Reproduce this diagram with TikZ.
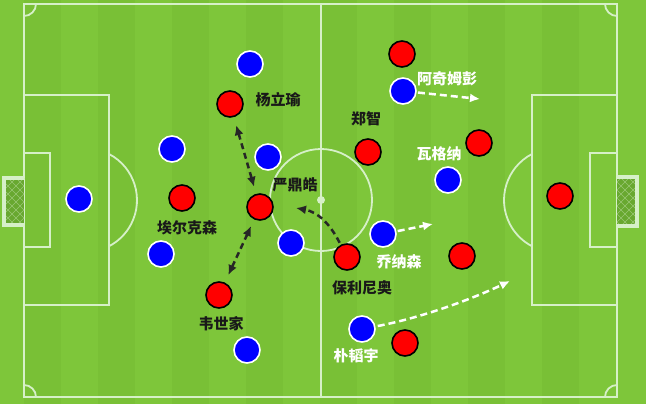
\documentclass[tikz,border=0pt]{standalone}
\usepackage{fontspec}
\usepackage{tkz-graph}
\usetikzlibrary{arrows.meta}
\usetikzlibrary{shapes}
\newfontfamily\cjk{Noto Sans CJK SC}
\definecolor{pitchGreen}{RGB}{126,198,58}
\definecolor{stripeGreen}{RGB}{121,192,54}
\definecolor{lineWhite}{RGB}{214,240,200}
\definecolor{netGreen}{RGB}{104,168,48}
\definecolor{redPlayer}{RGB}{255,0,0}
\definecolor{bluePlayer}{RGB}{0,0,255}

\begin{document}
\begin{tikzpicture}[x = 1pt, y = -1pt, font=\cjk\bfseries]
	\tikzstyle{VertexStyle} = []
	\tikzstyle{EdgeStyle} = []
	\tikzstyle{redStyle}=[shape = circle, minimum size = 26pt, inner sep = 0pt, draw = black, line width = 1.6pt, fill = redPlayer]
	\tikzstyle{blueStyle}=[shape = circle, minimum size = 26pt, inner sep = 0pt, draw = white, line width = 1.6pt, fill = bluePlayer]
	\tikzstyle{pitchLine}=[draw = lineWhite, line width = 1.8pt]
	\tikzstyle{blackName}=[text = black!90, inner sep = 0pt, font = \cjk\bfseries\fontsize{15}{17}\selectfont]
	\tikzstyle{whiteName}=[text = white, inner sep = 0pt, font = \cjk\bfseries\fontsize{15}{17}\selectfont]
	\tikzstyle{runBlack}=[draw = black!85, line width = 2.5pt, dash pattern = on 6pt off 4pt, >={Latex[length=10pt, width=9pt]}]
	\tikzstyle{runWhite}=[draw = white, line width = 2.5pt, dash pattern = on 7pt off 4pt, >={Latex[length=10pt, width=9pt]}]
	\useasboundingbox (0,0) rectangle (646,404);
	% pitch
	\fill[pitchGreen] (0,0) rectangle (646,404);
	\foreach \s in {0,...,7}
		\fill[stripeGreen] ({24+\s*74},0) rectangle ({24+\s*74+37},404);
	\draw[pitchLine] (24,4) rectangle (617,397);
	\draw[pitchLine] (321,4) -- (321,397);
	\draw[pitchLine] (321,200) circle (51);
	\fill[lineWhite] (321,200) circle (4);
	\draw[pitchLine] (24,95) rectangle (109,305);
	\draw[pitchLine] (24,153) rectangle (50,247);
	\draw[pitchLine] (109,154) arc[start angle = -62.5, end angle = 62.5, radius = 52];
	\draw[pitchLine] (532,95) rectangle (617,305);
	\draw[pitchLine] (590,153) rectangle (617,247);
	\draw[pitchLine] (532,154) arc[start angle = 242.5, end angle = 117.5, radius = 52];
	\draw[pitchLine] (36,4) arc[start angle = 0, end angle = 90, radius = 12];
	\draw[pitchLine] (605,4) arc[start angle = 180, end angle = 90, radius = 12];
	\draw[pitchLine] (24,385) arc[start angle = 270, end angle = 360, radius = 12];
	\draw[pitchLine] (605,397) arc[start angle = 180, end angle = 270, radius = 12];
	% goals
	\foreach \gx/\gw in {4/20, 617/20} {
		\fill[netGreen] (\gx,178) rectangle ({\gx+\gw},225);
		\begin{scope}
			\clip (\gx,178) rectangle ({\gx+\gw},225);
			\foreach \d in {-60,-52,...,60} {
				\draw[lineWhite!45!netGreen, line width = 0.6pt] ({\gx+\d},178) -- ++(60,60);
				\draw[lineWhite!45!netGreen, line width = 0.6pt] ({\gx+\d},178) -- ++(-60,60);
			}
		\end{scope}
	}
	\draw[lineWhite, line width = 3.5pt] (24,178) -- (4,178) -- (4,225) -- (24,225);
	\draw[lineWhite, line width = 3.5pt] (617,177) -- (637,177) -- (637,226) -- (617,226);
	% red team
	\Vertex[style = redStyle, x = 230, y = 104, NoLabel]{r1}
	\Vertex[style = redStyle, x = 182, y = 198, NoLabel]{r2}
	\Vertex[style = redStyle, x = 260, y = 207, NoLabel]{r3}
	\Vertex[style = redStyle, x = 219, y = 295, NoLabel]{r4}
	\Vertex[style = redStyle, x = 402, y = 54, NoLabel]{r5}
	\Vertex[style = redStyle, x = 368, y = 152, NoLabel]{r6}
	\Vertex[style = redStyle, x = 479, y = 143, NoLabel]{r7}
	\Vertex[style = redStyle, x = 347, y = 257, NoLabel]{r8}
	\Vertex[style = redStyle, x = 462, y = 256, NoLabel]{r9}
	\Vertex[style = redStyle, x = 405, y = 343, NoLabel]{r10}
	\Vertex[style = redStyle, x = 560, y = 196, NoLabel]{r11}
	% blue team
	\Vertex[style = blueStyle, x = 250, y = 64, NoLabel]{b1}
	\Vertex[style = blueStyle, x = 172, y = 149, NoLabel]{b2}
	\Vertex[style = blueStyle, x = 268, y = 157, NoLabel]{b3}
	\Vertex[style = blueStyle, x = 79, y = 199, NoLabel]{b4}
	\Vertex[style = blueStyle, x = 161, y = 254, NoLabel]{b5}
	\Vertex[style = blueStyle, x = 291, y = 243, NoLabel]{b6}
	\Vertex[style = blueStyle, x = 247, y = 350, NoLabel]{b7}
	\Vertex[style = blueStyle, x = 403, y = 91, NoLabel]{b8}
	\Vertex[style = blueStyle, x = 448, y = 180, NoLabel]{b9}
	\Vertex[style = blueStyle, x = 383, y = 234, NoLabel]{b10}
	\Vertex[style = blueStyle, x = 362, y = 329, NoLabel]{b11}
	% names
	\node[blackName] (nameYang) at (278,100) {杨立瑜};
	\node[blackName] (nameYan) at (295,185) {严鼎皓};
	\node[blackName] (nameElk) at (187,228) {埃尔克森};
	\node[blackName] (nameWei) at (221,324) {韦世家};
	\node[blackName] (nameZheng) at (366,119) {郑智};
	\node[blackName] (namePaul) at (362,288) {保利尼奥};
	\node[whiteName] (nameAch) at (447,79) {阿奇姆彭};
	\node[whiteName] (nameWag) at (439,154) {瓦格纳};
	\node[whiteName] (nameJon) at (399,262) {乔纳森};
	\node[whiteName] (namePark) at (356,356) {朴韬宇};
	% runs
	\coordinate (r8Run) at (296,208);
	\coordinate (b8Run) at (480,99);
	\coordinate (b10Run) at (433,224);
	\coordinate (b11Run) at (510,281);
	\Edge[style = {runBlack, <->, shorten <=9pt, shorten >=8pt}](r1)(r3)
	\Edge[style = {runBlack, <->, shorten <=8pt, shorten >=9pt}](r3)(r4)
	\draw[runBlack, ->, shorten <=3pt] (r8) .. controls (330,224) and (318,212) .. (r8Run);
	\draw[runWhite, ->, shorten <=2pt] (b8) -- (b8Run);
	\draw[runWhite, ->, shorten <=2pt] (b10) -- (b10Run);
	\draw[runWhite, ->, shorten <=3pt] (b11) .. controls (420,318) and (470,300) .. (b11Run);
\end{tikzpicture}
\end{document}
